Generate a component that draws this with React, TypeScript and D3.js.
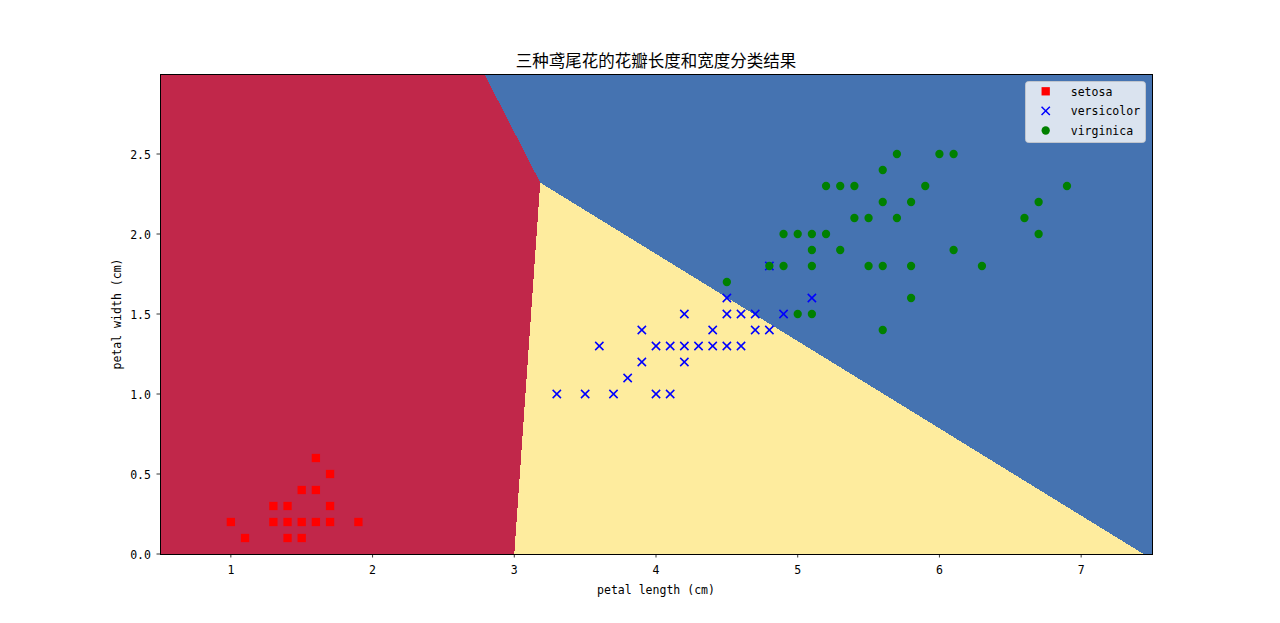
import React from "react";
import * as d3 from "d3";

// ---- data ----
const setosa: [number, number][] = [
  [1.0, 0.2], [1.1, 0.1], [1.3, 0.2], [1.3, 0.3], [1.4, 0.1], [1.4, 0.2], [1.4, 0.3],
  [1.5, 0.1], [1.5, 0.2], [1.5, 0.4], [1.6, 0.2], [1.6, 0.4], [1.6, 0.6], [1.7, 0.2],
  [1.7, 0.3], [1.7, 0.5], [1.9, 0.2],
];
const versicolor: [number, number][] = [
  [3.3, 1.0], [3.5, 1.0], [3.7, 1.0], [3.6, 1.3], [3.8, 1.1], [3.9, 1.4], [3.9, 1.2],
  [4.0, 1.3], [4.0, 1.0], [4.1, 1.3], [4.1, 1.0], [4.2, 1.5], [4.2, 1.3], [4.2, 1.2],
  [4.3, 1.3], [4.4, 1.4], [4.4, 1.3], [4.5, 1.6], [4.5, 1.5], [4.5, 1.3], [4.6, 1.5],
  [4.6, 1.3], [4.7, 1.5], [4.7, 1.4], [4.8, 1.4], [4.8, 1.8], [4.9, 1.5], [5.1, 1.6],
];
const virginica: [number, number][] = [
  [5.7, 2.5], [6.0, 2.5], [6.1, 2.5], [5.6, 2.4], [5.2, 2.3], [5.3, 2.3], [5.4, 2.3],
  [5.9, 2.3], [6.9, 2.3], [5.6, 2.2], [5.8, 2.2], [6.7, 2.2], [5.4, 2.1], [5.5, 2.1],
  [5.7, 2.1], [6.6, 2.1], [4.9, 2.0], [5.0, 2.0], [5.1, 2.0], [5.2, 2.0], [6.7, 2.0],
  [5.1, 1.9], [5.3, 1.9], [6.1, 1.9], [4.8, 1.8], [4.9, 1.8], [5.1, 1.8], [5.5, 1.8],
  [5.6, 1.8], [5.8, 1.8], [6.3, 1.8], [4.5, 1.7], [5.8, 1.6], [5.0, 1.5], [5.1, 1.5],
  [5.6, 1.4],
];
// decision regions (data coordinates)
const regionSetosa: [number, number][] = [[0.5, 0], [3.0, 0], [3.183, 2.321], [2.789, 3.0], [0.5, 3.0]];
const regionVersicolor: [number, number][] = [[3.0, 0], [7.44, 0], [3.183, 2.321]];
const regionVirginica: [number, number][] = [[3.183, 2.321], [7.44, 0], [7.5, 0], [7.5, 3.0], [2.789, 3.0]];

const xTicks = [1, 2, 3, 4, 5, 6, 7];
const yTicks = [0, 0.5, 1.0, 1.5, 2.0, 2.5];
const legendLabels = ["setosa", "versicolor", "virginica"];
const title = "三种鸢尾花的花瓣长度和宽度分类结果";
const xLabel = "petal length (cm)";
const yLabel = "petal width (cm)";

// ---- layout ----
const W = 1280, H = 623;
const L = 160, R = 1152, T = 74, B = 554;
const x = d3.scaleLinear().domain([0.5, 7.5]).range([L, R]);
const y = d3.scaleLinear().domain([0, 3.0]).range([B, T]);
const line = d3.line<[number, number]>().x(d => x(d[0])).y(d => y(d[1]));

const MONO = "'DejaVu Sans Mono', 'Liberation Mono', monospace";
const CJK = "'Noto Sans CJK SC', 'Noto Sans CJK JP', sans-serif";
const CH = 6.94;

function MText(props: { x: number; y: number; s: string; anchor?: string; transform?: string }) {
  return (
    <text x={props.x} y={props.y} textAnchor={props.anchor || "start"} fontFamily={MONO} fontSize={12.5}
      textLength={props.s.length * CH} lengthAdjust="spacingAndGlyphs" transform={props.transform} fill="#000">
      {props.s}
    </text>
  );
}

const RED = "#c1274a", YEL = "#feec9e", BLU = "#4573b1";
const ms = 8.3;

function Square({ cx, cy }: { cx: number; cy: number }) {
  return <rect x={cx - ms / 2} y={cy - ms / 2} width={ms} height={ms} fill="#ff0000" />;
}
function Cross({ cx, cy }: { cx: number; cy: number }) {
  const h = ms / 2;
  return <path d={`M${cx - h},${cy - h}L${cx + h},${cy + h}M${cx - h},${cy + h}L${cx + h},${cy - h}`} stroke="#0000ff" strokeWidth={1.5} fill="none" />;
}
function Dot({ cx, cy }: { cx: number; cy: number }) {
  return <circle cx={cx} cy={cy} r={ms / 2} fill="#008000" />;
}

export default function App() {
  const legendRows = [91.3, 110.9, 130.5];
  return (
    <svg width={W} height={H} style={{ position: "absolute", left: 0, top: 0, background: "#fff" }}>
      <rect x={0} y={0} width={W} height={H} fill="#fff" />
      <g shapeRendering="crispEdges">
        <path d={line(regionSetosa)! + "Z"} fill={RED} />
        <path d={line(regionVersicolor)! + "Z"} fill={YEL} />
        <path d={line(regionVirginica)! + "Z"} fill={BLU} />
      </g>
      {setosa.map((d, i) => <Square key={"s" + i} cx={x(d[0])} cy={y(d[1])} />)}
      {versicolor.map((d, i) => <Cross key={"v" + i} cx={x(d[0])} cy={y(d[1])} />)}
      {virginica.map((d, i) => <Dot key={"g" + i} cx={x(d[0])} cy={y(d[1])} />)}

      <rect x={L} y={T} width={R - L} height={B - T} fill="none" stroke="#000" strokeWidth={1} shapeRendering="crispEdges" />
      {xTicks.map(t => (
        <g key={"xt" + t}>
          <line x1={x(t)} x2={x(t)} y1={B} y2={B + 3.5} stroke="#000" strokeWidth={0.8} />
          <MText x={x(t)} y={574} s={String(t)} anchor="middle" />
        </g>
      ))}
      {yTicks.map(t => (
        <g key={"yt" + t}>
          <line x1={L - 3.5} x2={L} y1={y(t)} y2={y(t)} stroke="#000" strokeWidth={0.8} />
          <MText x={151} y={y(t) + 4.6} s={t.toFixed(1)} anchor="end" />
        </g>
      ))}
      <MText x={(L + R) / 2} y={594} s={xLabel} anchor="middle" />
      <MText x={0} y={0} s={yLabel} anchor="middle" transform={`translate(121,${(T + B) / 2}) rotate(-90)`} />
      <text x={(L + R) / 2} y={67} textAnchor="middle" fontFamily={CJK} fontSize={16.5} fill="#000"
        textLength={title.length * 16.5} lengthAdjust="spacingAndGlyphs">{title}</text>

      <rect x={1025.5} y={81.5} width={120} height={61} rx={3} fill="#fff" fillOpacity={0.8} stroke="#cccccc" strokeOpacity={0.8} />
      <Square cx={1045.7} cy={legendRows[0]} />
      <Cross cx={1045.7} cy={legendRows[1]} />
      <Dot cx={1045.7} cy={legendRows[2]} />
      {legendLabels.map((s, i) => <MText key={s} x={1070.7} y={legendRows[i] + 4.3} s={s} />)}
    </svg>
  );
}
